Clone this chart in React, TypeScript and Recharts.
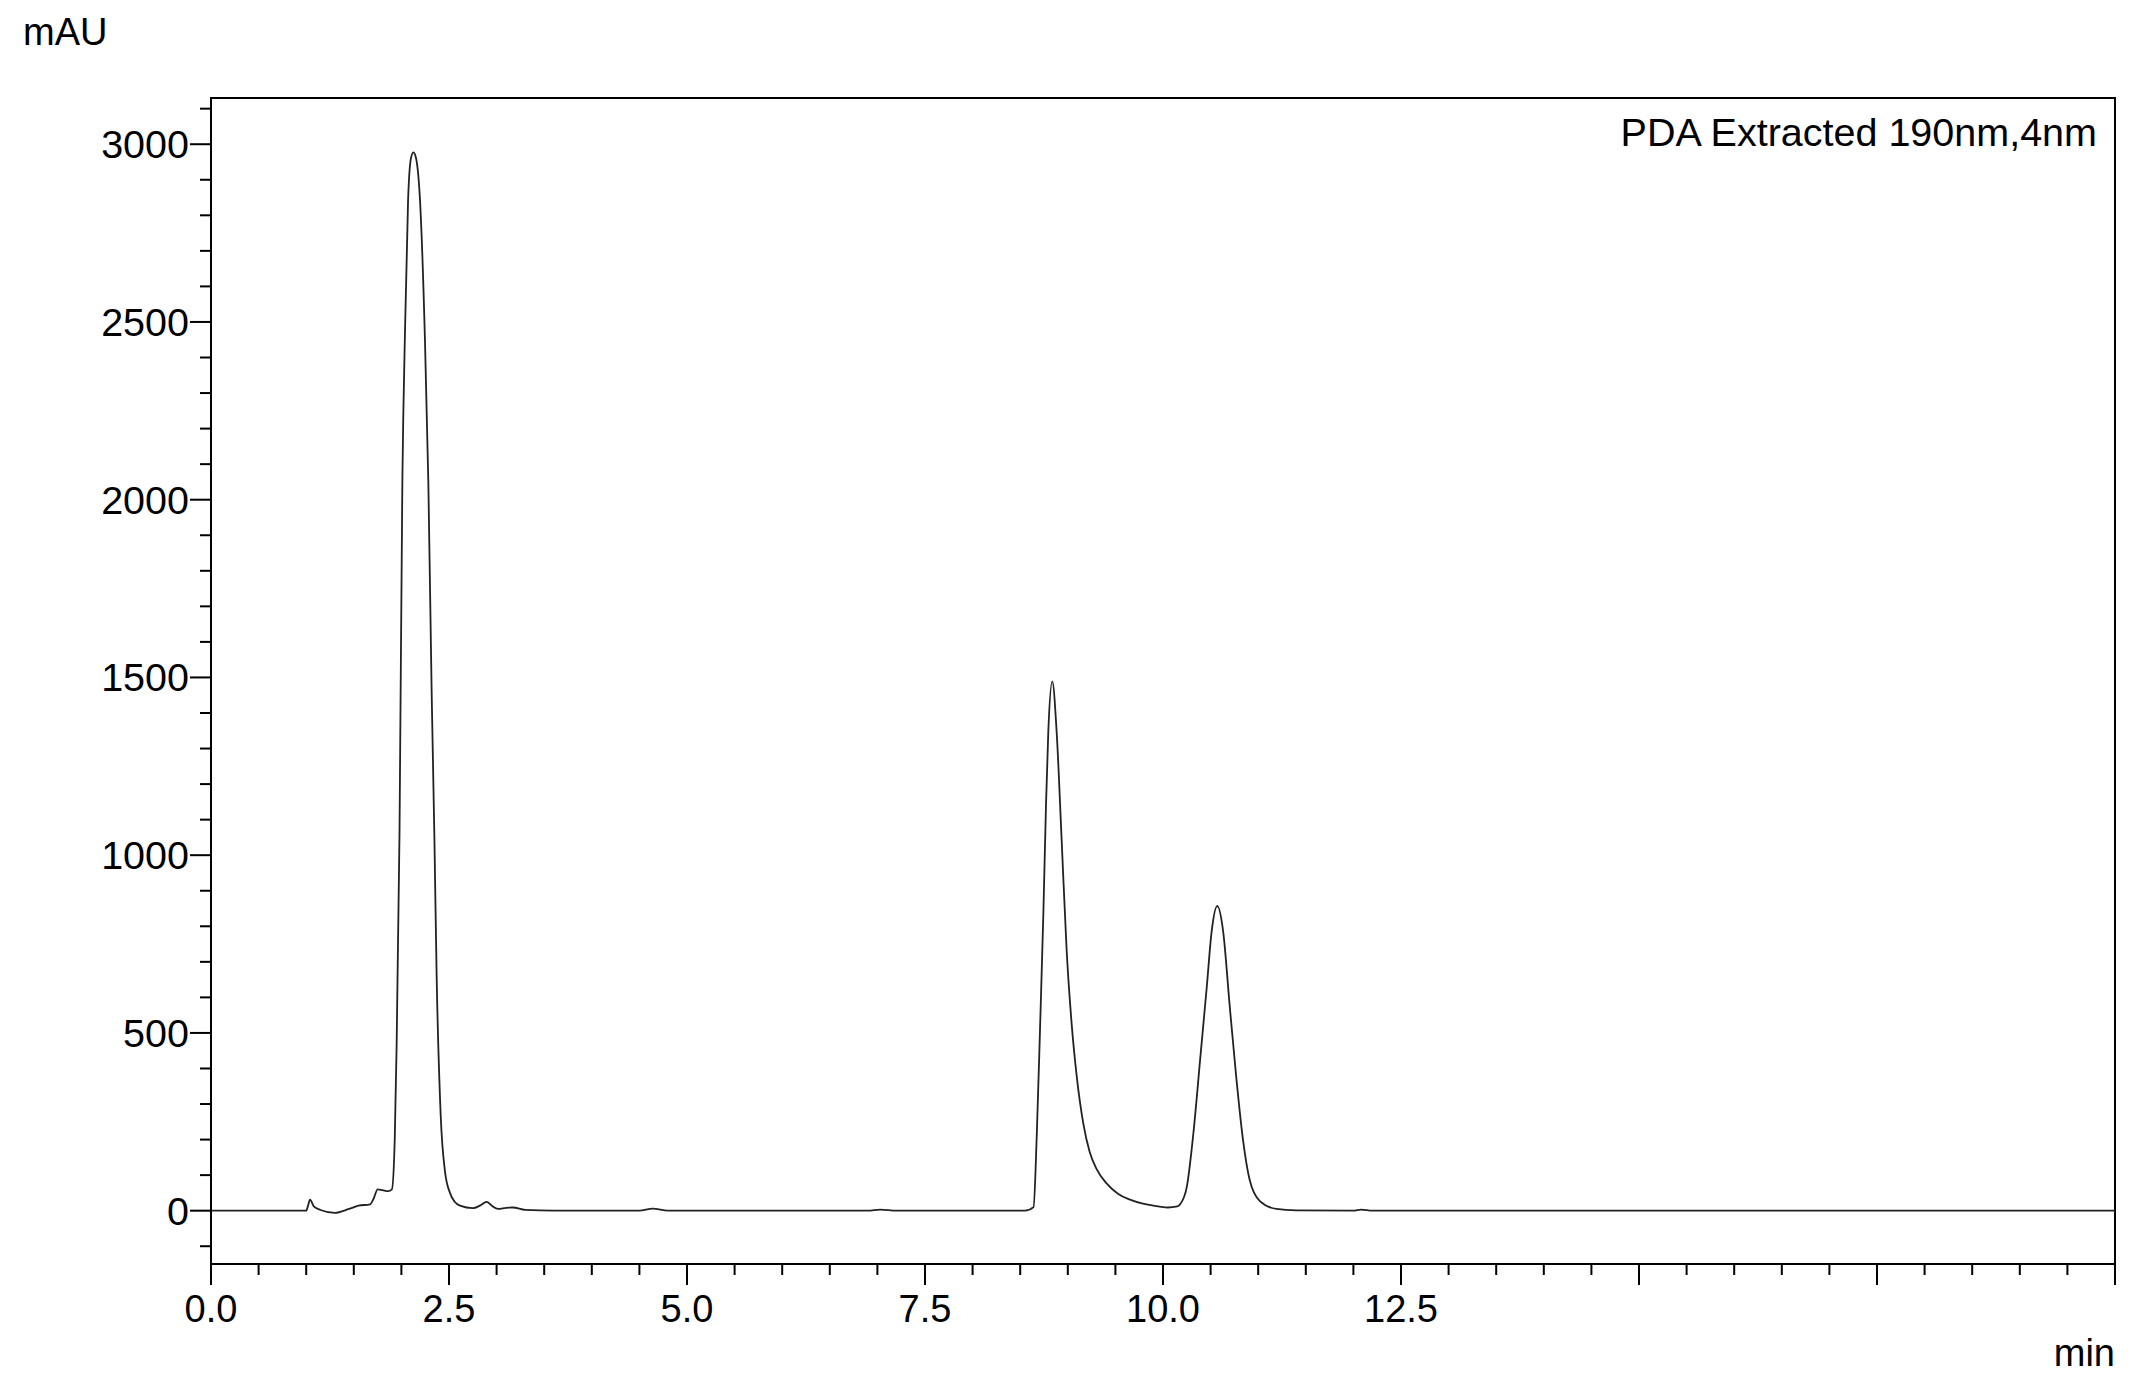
import React from 'react';
import { ComposedChart, Line, XAxis, YAxis, ReferenceArea } from 'recharts';

// Retention time (min) and absorbance (mAU)
const timesMin = [
  0, 0.5, 1.0, 1.02, 1.04, 1.08, 1.15, 1.3, 1.45, 1.55, 1.67, 1.71, 1.75, 1.8, 1.86, 1.9,
  1.93, 1.95, 1.98, 2.01, 2.04, 2.07, 2.1, 2.125, 2.15, 2.196, 2.248, 2.283, 2.318, 2.346,
  2.37, 2.413, 2.458, 2.51, 2.56, 2.615, 2.75, 2.83, 2.895, 2.95, 3.015, 3.1, 3.17, 3.3,
  3.6, 4.5, 4.64, 4.8, 6.9, 7.03, 7.2, 8.55, 8.64, 8.675, 8.71, 8.743, 8.771, 8.795, 8.837,
  8.883, 8.936, 8.988, 9.04, 9.093, 9.163, 9.23, 9.3, 9.41, 9.53, 9.653, 9.8, 9.9, 10.05,
  10.15, 10.18, 10.25, 10.32, 10.39, 10.46, 10.51, 10.57, 10.633, 10.7, 10.77, 10.84, 10.91,
  11.02, 11.19, 11.4, 12.0, 12.08, 12.2, 20,
];
const absorbanceMAU = [
  0, 0, 0, 15, 31, 12, 2, -6, 5, 14, 18, 35, 60, 58, 55, 60,
  200, 466, 1059, 2048, 2500, 2840, 2960, 2977, 2965, 2840, 2444, 2048, 1455, 1059,
  663, 267, 110, 50, 25, 14, 7, 15, 25, 14, 5, 8, 9, 2,
  0, 0, 6, 0, 0, 3, 0, 0, 10, 220, 527, 834, 1141, 1346, 1489,
  1346, 1039, 732, 527, 380, 245, 165, 118, 76, 47, 31, 19, 14, 9,
  12, 18, 67, 220, 425, 630, 783, 857, 783, 578, 374, 200, 87,
  26, 5, 1, 0, 3, 0, 0,
];

const xLabelTicks = [0, 2.5, 5, 7.5, 10, 12.5];
const yLabelTicks = [0, 500, 1000, 1500, 2000, 2500, 3000];
const xDomain = [0, 20];
const yDomain = [-150, 3130];
const yAxisUnit = 'mAU';
const xAxisUnit = 'min';
const traceTitle = 'PDA Extracted 190nm,4nm';

const data = timesMin.map((t, i) => ({ t, v: absorbanceMAU[i] }));
const xTicks = Array.from({ length: 41 }, (_, i) => i * 0.5);
const yTicks = Array.from({ length: 33 }, (_, i) => -100 + i * 100);

const FONT = "'Liberation Sans', Arial, sans-serif";

const isMult = (v: number, step: number) => Math.abs(v / step - Math.round(v / step)) < 1e-6;

const XTick = (props: any) => {
  const { x, y, payload } = props;
  const v = payload.value as number;
  const major = isMult(v, 2.5);
  const labeled = xLabelTicks.some((l) => Math.abs(l - v) < 1e-6);
  return (
    <g>
      <line x1={x} x2={x} y1={y} y2={y + (major ? 21 : 11)} stroke="#000" strokeWidth={2} />
      {labeled && (
        <text x={x} y={y + 58} textAnchor="middle" fontFamily={FONT} fontSize={38} fill="#000">
          {v.toFixed(1)}
        </text>
      )}
    </g>
  );
};

const YTick = (props: any) => {
  const { x, y, payload } = props;
  const v = payload.value as number;
  const labeled = yLabelTicks.includes(v);
  return (
    <g>
      <line x1={x} x2={x - (labeled ? 21 : 11)} y1={y} y2={y} stroke="#000" strokeWidth={2} />
      {labeled && (
        <text x={x - 22} y={y + 14} textAnchor="end" fontFamily={FONT} fontSize={39.5} fill="#000">
          {String(v)}
        </text>
      )}
    </g>
  );
};

export default function App() {
  return (
    <div style={{ position: 'absolute', left: 0, top: 0, width: 2136, height: 1382, background: '#fff' }}>
      <ComposedChart
        width={2136}
        height={1382}
        data={data}
        margin={{ top: 98, right: 21, bottom: 0, left: 0 }}
      >
        <XAxis
          dataKey="t"
          type="number"
          domain={xDomain}
          ticks={xTicks}
          interval={0}
          allowDataOverflow
          height={118}
          tickSize={0}
          tickMargin={0}
          tickLine={false}
          axisLine={{ stroke: '#000', strokeWidth: 2 }}
          tick={<XTick />}
        />
        <YAxis
          type="number"
          domain={yDomain}
          ticks={yTicks}
          interval={0}
          allowDataOverflow
          width={211}
          tickSize={0}
          tickMargin={0}
          tickLine={false}
          axisLine={{ stroke: '#000', strokeWidth: 2 }}
          tick={<YTick />}
        />
        <ReferenceArea
          x1={xDomain[0]}
          x2={xDomain[1]}
          y1={yDomain[0]}
          y2={yDomain[1]}
          fill="none"
          fillOpacity={0}
          stroke="#000"
          strokeWidth={2}
        />
        <Line
          type="monotone"
          dataKey="v"
          stroke="#222"
          strokeWidth={1.8}
          dot={false}
          activeDot={false}
          isAnimationActive={false}
        />
      </ComposedChart>
      <svg
        width={2136}
        height={1382}
        style={{ position: 'absolute', left: 0, top: 0, pointerEvents: 'none' }}
      >
        <text x={23} y={45} fontFamily={FONT} fontSize={38} fill="#000">
          {yAxisUnit}
        </text>
        <text x={2115} y={1366} textAnchor="end" fontFamily={FONT} fontSize={38} fill="#000">
          {xAxisUnit}
        </text>
        <text x={2097} y={146} textAnchor="end" fontFamily={FONT} fontSize={39.5} fill="#000">
          {traceTitle}
        </text>
      </svg>
    </div>
  );
}
